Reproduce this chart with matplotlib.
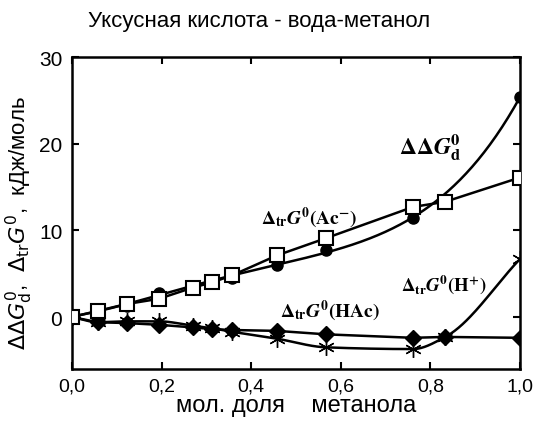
import numpy as np
import matplotlib
matplotlib.use("Agg")
import matplotlib.pyplot as plt

plt.rcParams['font.family'] = ['Liberation Sans', 'DejaVu Sans']

# Data (mole fraction of methanol)
x_dd = [0.0, 0.057, 0.122, 0.194, 0.357, 0.457, 0.567, 0.761, 1.0]
y_dd = [0.0, 0.8, 1.3, 2.8, 4.5, 6.0, 7.7, 11.4, 25.4]

x_ac = [0.0, 0.057, 0.122, 0.194, 0.27, 0.313, 0.357, 0.457, 0.567, 0.761, 0.833, 1.0]
y_ac = [0.0, 0.7, 1.5, 2.1, 3.4, 4.0, 4.8, 7.1, 9.1, 12.7, 13.3, 16.1]

x_hac = [0.0, 0.057, 0.122, 0.194, 0.27, 0.313, 0.357, 0.457, 0.567, 0.761, 0.833, 1.0]
y_hac = [0.0, -0.6, -0.7, -0.9, -1.2, -1.4, -1.5, -1.6, -2.0, -2.4, -2.3, -2.4]

x_h = [0.0, 0.057, 0.122, 0.194, 0.27, 0.313, 0.357, 0.457, 0.567, 0.761, 0.833, 1.0]
y_h = [0.0, -0.6, -0.5, -0.5, -1.0, -1.3, -1.7, -2.5, -3.5, -3.7, -2.3, 6.7]

xticks = [0.0, 0.2, 0.4, 0.6, 0.8, 1.0]
xticklabels = ['0,0', '0,2', '0,4', '0,6', '0,8', '1,0']
yticks = [0, 10, 20, 30]


def pchip_curve(x, y, n=40):
    """Shape-preserving smooth curve through the points (monotone cubic Hermite)."""
    x = np.asarray(x, float)
    y = np.asarray(y, float)
    h = np.diff(x)
    d = np.diff(y) / h
    m = np.zeros_like(y)
    for k in range(1, len(x) - 1):
        if d[k - 1] * d[k] > 0:
            w1 = 2 * h[k] + h[k - 1]
            w2 = h[k] + 2 * h[k - 1]
            m[k] = (w1 + w2) / (w1 / d[k - 1] + w2 / d[k])
    m[0] = d[0]
    m[-1] = d[-1]
    xs_all, ys_all = [], []
    for i in range(len(x) - 1):
        t = np.linspace(0, 1, n)
        h00 = 2 * t**3 - 3 * t**2 + 1
        h10 = t**3 - 2 * t**2 + t
        h01 = -2 * t**3 + 3 * t**2
        h11 = t**3 - t**2
        xs_all.append(x[i] + t * h[i])
        ys_all.append(h00 * y[i] + h10 * h[i] * m[i] + h01 * y[i + 1] + h11 * h[i] * m[i + 1])
    return np.concatenate(xs_all), np.concatenate(ys_all)


fig = plt.figure(figsize=(5.35, 4.27), dpi=100)
ax = fig.add_axes([0.1346, 0.1335, 0.8374, 0.7305])

xs = np.linspace(0, 1, 300)
lw = 1.8

# Smoothed lines
p_dd = np.polyfit(x_dd, y_dd, 4)
ax.plot(xs, np.polyval(p_dd, xs), color='black', lw=lw, zorder=2)
hx, hy = pchip_curve(x_h, y_h)
ax.plot(hx, hy, color='black', lw=lw, zorder=2)
ax.plot(x_ac, y_ac, color='black', lw=lw, zorder=2)
ax.plot(x_hac, y_hac, color='black', lw=lw, zorder=2)

ax.plot(x_dd, y_dd, 'o', color='black', ms=8, zorder=3, lw=0)
ax.plot(x_ac, y_ac, 's', mfc='white', mec='black', mew=1.5, ms=10, zorder=4, lw=0)
ax.plot(x_h, y_h, marker=(6, 2, 0), color='black', mew=1.0, ms=12, zorder=3, lw=0)
ax.plot(x_hac, y_hac, 'D', color='black', ms=8, zorder=3, lw=0)

ax.set_xlim(0, 1)
ax.set_ylim(-6, 30)
ax.set_xticks(xticks)
ax.set_xticklabels(xticklabels)
ax.set_yticks(yticks)
ax.tick_params(direction='in', length=5, width=1.5, top=True, right=True, pad=6)
ax.tick_params(axis='x', labelsize=14)
ax.tick_params(axis='y', labelsize=15, pad=7)
for s in ax.spines.values():
    s.set_linewidth(1.8)

fig.suptitle('Уксусная кислота - вода-метанол', x=0.484, y=0.975, fontsize=16)
ax.set_xlabel('мол. доля    метанола', fontsize=17, labelpad=0)
ax.set_ylabel(r'$\Delta\Delta G^0_{\rm d}$,  $\Delta_{\rm tr}G^0$,  кДж/моль', fontsize=16)
ax.yaxis.label.set_va('center')
ax.yaxis.set_label_coords(-0.118, 0.47)

lab = dict(ha='center', va='center', math_fontfamily='stix', color='black')
ax.text(0.80, 19.6, r'$\mathbf{\Delta\Delta}\mathbfit{G}_{\mathbf{d}}^{\mathbf{0}}$', fontsize=17, **lab)
ax.text(0.53, 11.6, r'$\mathbf{\Delta_{tr}}\mathbfit{G}^{\mathbf{0}}\mathbf{(Ac^{-})}$', fontsize=14, **lab)
ax.text(0.575, 0.8, r'$\mathbf{\Delta_{tr}}\mathbfit{G}^{\mathbf{0}}\mathbf{(HAc)}$', fontsize=14, **lab)
ax.text(0.83, 3.8, r'$\mathbf{\Delta_{tr}}\mathbfit{G}^{\mathbf{0}}\mathbf{(H^{+})}$', fontsize=13.5, **lab)

fig.savefig('out.png', dpi=100)
